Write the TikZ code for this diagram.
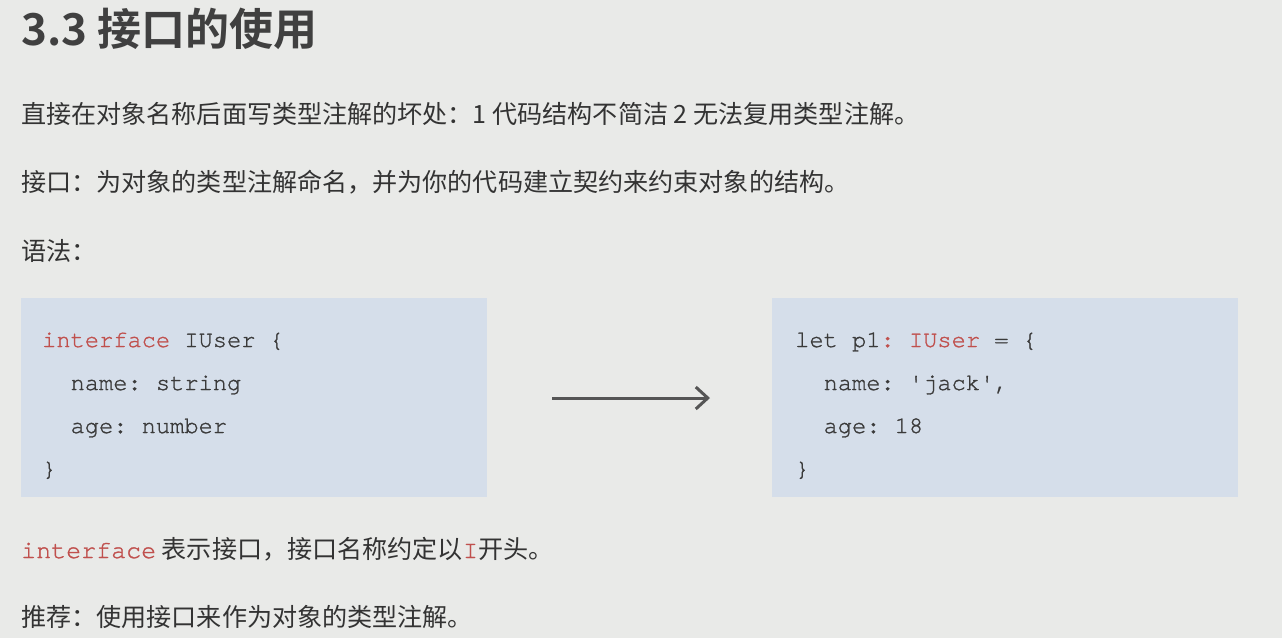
\documentclass[tikz,border=0pt]{standalone}
\usepackage{fontspec}
\setmainfont{Noto Sans CJK SC}
\newfontfamily\cjkbold{Noto Sans CJK SC Bold}
\setmonofont[FakeBold=1.2]{TeX Gyre Cursor}
\usetikzlibrary{arrows.meta}
\definecolor{bgc}{HTML}{E9EAE8}
\definecolor{boxc}{HTML}{D5DEEA}
\definecolor{txt}{HTML}{333333}
\definecolor{ctxt}{HTML}{3A3A3A}
\definecolor{ttl}{HTML}{404040}
\definecolor{kw}{HTML}{C0504D}
\definecolor{arr}{HTML}{555555}
\tikzset{
  body/.style={anchor=base west, inner sep=0pt, text=txt, font=\fontsize{25.1}{30}\selectfont},
  code/.style={anchor=base west, inner sep=0pt, text=ctxt, font=\ttfamily\fontsize{23.7}{28}\selectfont},
  codebox/.style={fill=boxc, draw=none},
}
\newcommand{\inlinecode}[1]{\textcolor{kw}{\ttfamily\fontsize{25}{30}\selectfont #1}}
\begin{document}
\begin{tikzpicture}[x=1pt,y=-1pt]
\fill[bgc] (0,0) rectangle (1282,638);
\useasboundingbox (0,0) rectangle (1282,638);
\node[anchor=base west, inner sep=0pt, text=ttl, font=\cjkbold\fontsize{44}{48}\selectfont] (title) at (21,45) {3.3 接口的使用};
\node[body] (l1) at (21,123) {直接在对象名称后面写类型注解的坏处：1 代码结构不简洁 2 无法复用类型注解。};
\node[body] (l2) at (21,191) {接口：为对象的类型注解命名，并为你的代码建立契约来约束对象的结构。};
\node[body] (l3) at (21,260) {语法：};
\fill[codebox] (21,298) rectangle (487,497);
\fill[codebox] (772,298) rectangle (1238,497);
\node[code] (a1) at (42,347) {\textcolor{kw}{interface} IUser \{};
\node[code] (a2) at (42,390) {\ \ name: string};
\node[code] (a3) at (42,433) {\ \ age: number};
\node[code] (a4) at (42,476) {\}};
\node[code] (b1) at (795,347) {let p1\textcolor{kw}{: IUser} = \{};
\node[code] (b2) at (795,390) {\ \ name: 'jack',};
\node[code] (b3) at (795,433) {\ \ age: 18};
\node[code] (b4) at (795,476) {\}};
\coordinate (as) at (552,398);
\coordinate (ae) at (710,398);
\draw[arr, line width=3pt, -{Straight Barb[length=12pt,width=22pt]}] (as) -- (ae);
\node[body] (l4) at (21,558) {\inlinecode{interface} 表示接口，接口名称约定以\inlinecode{I}开头。};
\node[body] (l5) at (21,626) {推荐：使用接口来作为对象的类型注解。};
\end{tikzpicture}
\end{document}
